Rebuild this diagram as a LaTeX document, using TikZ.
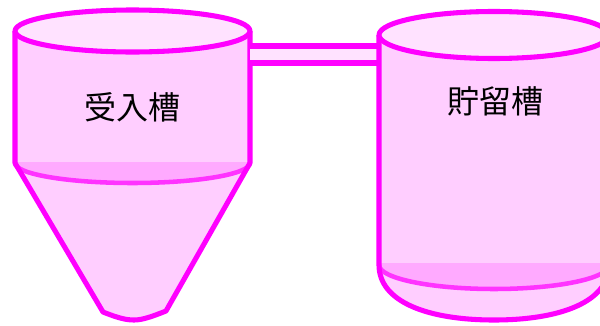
\documentclass[tikz,border=0pt]{standalone}
\usepackage{fontspec}
\newfontfamily\jpfont{Noto Sans CJK JP}
\definecolor{tankline}{RGB}{255,0,255}
\definecolor{bandline}{RGB}{255,51,255}
\definecolor{bodyfill}{RGB}{255,206,255}
\definecolor{topfill}{RGB}{255,226,255}
\definecolor{bandfill}{RGB}{255,170,255}
\tikzset{every picture/.style={line width=0.75pt}}
\tikzset{
  wall/.style={draw=tankline,line width=3.8pt,line join=round},
  band/.style={draw=bandline,line width=3.4pt},
  label/.style={inner sep=0.75pt,font=\jpfont\fontsize{24}{24}\selectfont}
}

\begin{document}
\begin{tikzpicture}[x=0.75pt,y=0.75pt,yscale=-1,xscale=1]
\useasboundingbox (0,0) rectangle (600,325);
\clip (0,0) rectangle (600,325);

%Shape: Left tank body
\fill [bodyfill] (15,31) -- (15,163) -- (103,312) .. controls (118,318) and (126,320) .. (134,320) .. controls (142,320) and (151,317) .. (166,311) -- (250,163) -- (250,31) -- cycle ;
%Shape: Left tank band
\fill [bandfill] (15,162) -- (250,162) -- (250,163) arc [start angle=0, end angle=180, x radius=117.5, y radius=20] -- cycle ;
\draw [band] (250,163) arc [start angle=0, end angle=180, x radius=117.5, y radius=20] ;
%Shape: Left tank walls
\draw [wall] (15,31) -- (15,163) -- (103,312) .. controls (118,318) and (126,320) .. (134,320) .. controls (142,320) and (151,317) .. (166,311) -- (250,163) -- (250,31) ;
%Shape: Left tank top
\draw [wall,fill=topfill] (132.5,31) ellipse [x radius=117.5, y radius=21] ;

%Shape: Pipe
\fill [topfill] (250,46) rectangle (379,63) ;
\draw [wall] (250,46) -- (379,46) ;
\draw [wall] (250,63) -- (379,63) ;

%Shape: Right tank body
\fill [bodyfill] (379,35) -- (379,265) .. controls (379,302) and (428,320) .. (494,320) .. controls (560,320) and (609,302) .. (609,265) -- (609,35) -- cycle ;
%Shape: Right tank band
\fill [bandfill] (379,263) -- (609,263) -- (609,265) arc [start angle=0, end angle=180, x radius=115, y radius=24] -- cycle ;
\draw [band] (609,265) arc [start angle=0, end angle=180, x radius=115, y radius=24] ;
%Shape: Right tank walls
\draw [wall] (379,35) -- (379,265) .. controls (379,302) and (428,320) .. (494,320) .. controls (560,320) and (609,302) .. (609,265) -- (609,35) ;
%Shape: Right tank top
\draw [wall,fill=topfill] (494,35) ellipse [x radius=115, y radius=23.5] ;

% Text Node
\node [label] (receive) at (132,107) {受入槽};
% Text Node
\node [label] (storage) at (495,101) {貯留槽};

\end{tikzpicture}
\end{document}
